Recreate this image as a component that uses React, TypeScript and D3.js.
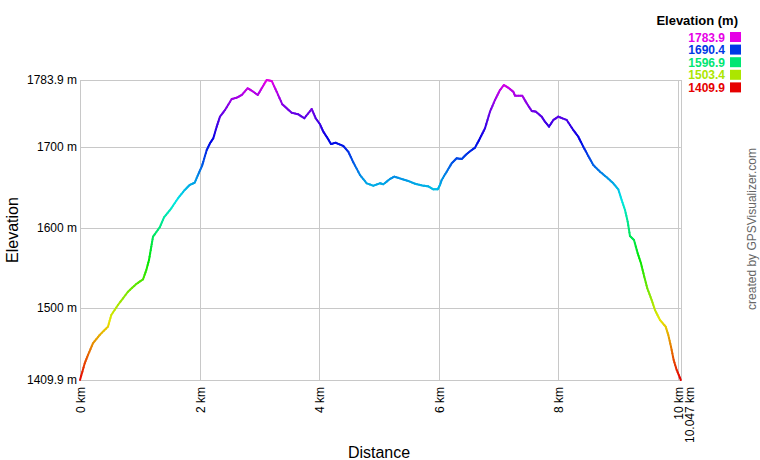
import React from "react";
import * as d3 from "d3";

const distanceKm: number[] = [
  0, 0.079, 0.134, 0.217, 0.329, 0.468, 0.523, 0.635, 0.803, 0.941, 1.054, 1.109, 1.154, 1.192, 1.221,
  1.333, 1.405, 1.527, 1.639, 1.751, 1.834, 1.918, 1.985, 2.04, 2.062, 2.119, 2.174, 2.229, 2.286, 2.341,
  2.425, 2.537, 2.62, 2.704, 2.804, 2.881, 2.972, 3.038, 3.122, 3.206, 3.289, 3.383, 3.457, 3.54, 3.651,
  3.751, 3.875, 3.941, 4.013, 4.069, 4.125, 4.197, 4.276, 4.403, 4.487, 4.57, 4.682, 4.794, 4.905, 5.017,
  5.072, 5.184, 5.256, 5.38, 5.49, 5.602, 5.741, 5.824, 5.908, 5.982, 6.02, 6.048, 6.132, 6.216, 6.299,
  6.383, 6.467, 6.55, 6.605, 6.689, 6.773, 6.856, 6.94, 7.023, 7.09, 7.174, 7.246, 7.274, 7.396, 7.47,
  7.554, 7.625, 7.721, 7.776, 7.843, 7.915, 7.998, 8.139, 8.249, 8.333, 8.416, 8.5, 8.584, 8.696, 8.808,
  8.918, 9.002, 9.058, 9.114, 9.159, 9.197, 9.264, 9.326, 9.381, 9.436, 9.487, 9.56, 9.615, 9.699, 9.794,
  9.838, 9.883, 9.928, 9.978, 10.047,
];

const elevationM: number[] = [
  1409.9, 1430.7, 1441.1, 1455.7, 1466.0, 1476.4, 1490.9, 1503.4, 1520.0, 1529.6, 1535.4, 1547.0, 1559.5, 1576.1, 1588.6,
  1600.3, 1612.7, 1624.0, 1636.4, 1646.8, 1653.0, 1655.9, 1667.6, 1676.7, 1682.1, 1696.6, 1705.0, 1711.2, 1725.7, 1738.2,
  1746.5, 1760.2, 1761.8, 1765.2, 1773.6, 1770.2, 1765.2, 1773.6, 1783.9, 1782.7, 1769.3, 1753.6, 1748.6, 1743.1, 1741.1,
  1736.2, 1747.8, 1736.2, 1728.7, 1719.5, 1713.2, 1704.1, 1705.7, 1701.6, 1694.5, 1681.3, 1665.5, 1655.1, 1652.1, 1655.1,
  1653.9, 1660.5, 1663.4, 1660.5, 1658.0, 1654.6, 1652.1, 1651.4, 1647.6, 1647.6, 1653.0, 1659.2, 1669.6, 1680.1, 1686.3,
  1685.4, 1691.7, 1696.6, 1699.5, 1711.2, 1723.7, 1744.4, 1759.0, 1771.4, 1777.7, 1773.6, 1769.3, 1764.3, 1764.3, 1754.9,
  1745.3, 1744.4, 1738.2, 1731.9, 1725.7, 1734.0, 1738.2, 1734.0, 1721.6, 1713.2, 1700.8, 1689.2, 1677.9, 1669.6, 1662.6,
  1655.1, 1647.6, 1634.3, 1621.8, 1607.3, 1589.4, 1584.4, 1567.9, 1555.4, 1538.7, 1524.2, 1509.6, 1497.2, 1484.7, 1476.4,
  1466.0, 1451.4, 1434.8, 1422.4, 1409.9,
];

const xTicks: number[] = [0, 2, 4, 6, 8, 10];
const yTicks: number[] = [1500, 1600, 1700];
const legendValues: number[] = [1783.9, 1690.4, 1596.9, 1503.4, 1409.9];

const MIN_E = 1409.9;
const MAX_E = 1783.9;
const MAX_D = 10.047;

const FONT = "'Liberation Sans', Arial, sans-serif";

export default function App() {
  const left = 80;
  const right = 680.8;
  const top = 80;
  const bottom = 380;

  const x = d3.scaleLinear().domain([0, MAX_D]).range([left, right]);
  const y = d3.scaleLinear().domain([MIN_E, MAX_E]).range([bottom, top]);
  const colorOf = (e: number) => {
    const t = (e - MIN_E) / (MAX_E - MIN_E);
    return d3.hsl(300 * Math.max(0, Math.min(1, t)), 1, 0.45).formatHex();
  };

  const lineGen = d3
    .line<[number, number]>()
    .x((d) => x(d[0]))
    .y((d) => y(d[1]));

  const segments: { d: string; c: string }[] = [];
  for (let i = 0; i < distanceKm.length - 1; i++) {
    const d0 = distanceKm[i], d1 = distanceKm[i + 1];
    const e0 = elevationM[i], e1 = elevationM[i + 1];
    const n = 4;
    for (let k = 0; k < n; k++) {
      const a = k / n, b = (k + 1) / n;
      const pA: [number, number] = [d0 + (d1 - d0) * a, e0 + (e1 - e0) * a];
      const pB: [number, number] = [d0 + (d1 - d0) * b, e0 + (e1 - e0) * b];
      segments.push({ d: lineGen([pA, pB]) || "", c: colorOf((pA[1] + pB[1]) / 2) });
    }
  }

  const grid = "#c8c8c8";

  return (
    <svg
      width={760}
      height={460}
      style={{ position: "absolute", left: 0, top: 0, background: "#fff" }}
      fontFamily={FONT}
    >
      <rect x={0} y={0} width={760} height={460} fill="#fff" />
      {yTicks.map((t) => (
        <line key={"hy" + t} x1={left} x2={right} y1={Math.round(y(t)) + 0.5} y2={Math.round(y(t)) + 0.5} stroke={grid} />
      ))}
      {xTicks.map((t) => (
        <line key={"vx" + t} x1={Math.round(x(t)) + 0.5} x2={Math.round(x(t)) + 0.5} y1={top} y2={bottom} stroke={grid} />
      ))}
      <rect x={left + 0.5} y={top + 0.5} width={Math.round(right) - left} height={bottom - top} fill="none" stroke={grid} />

      {[MAX_E, ...yTicks, MIN_E].map((t) => (
        <text key={"yl" + t} x={77} y={y(t)} dy="0.35em" textAnchor="end" fontSize={12} fill="#000">
          {(Number.isInteger(t) ? String(t) : t.toFixed(1)) + " m"}
        </text>
      ))}

      {xTicks.map((t) => (
        <text
          key={"xl" + t}
          transform={`translate(${x(t) + 5},${bottom + 7}) rotate(-90)`}
          textAnchor="end"
          fontSize={12}
          fill="#000"
        >
          {t + " km"}
        </text>
      ))}
      <text
        transform={`translate(${x(MAX_D) + 13.5},${bottom + 7}) rotate(-90)`}
        textAnchor="end"
        fontSize={12}
        fill="#000"
      >
        {MAX_D.toFixed(3) + " km"}
      </text>

      <text x={379} y={458} textAnchor="middle" fontSize={16} fill="#000">
        Distance
      </text>
      <text transform="translate(18,230) rotate(-90)" textAnchor="middle" fontSize={16} fill="#000">
        Elevation
      </text>

      <g fill="none" strokeWidth={2} strokeLinecap="round" strokeLinejoin="round">
        {segments.map((s, i) => (
          <path key={i} d={s.d} stroke={s.c} />
        ))}
      </g>

      <text x={738} y={25} textAnchor="end" fontSize={13} fontWeight="bold" fill="#000">
        Elevation (m)
      </text>
      {legendValues.map((v, i) => (
        <g key={"lg" + v}>
          <text x={725} y={41.5 + i * 12.6} textAnchor="end" fontSize={12} fontWeight="bold" fill={colorOf(v)}>
            {v.toFixed(1)}
          </text>
          <rect x={730} y={32 + i * 12.6} width={11} height={10} fill={colorOf(v)} />
        </g>
      ))}

      <text transform="translate(756,229) rotate(-90)" textAnchor="middle" fontSize={12} fill="#666">
        created by GPSVisualizer.com
      </text>
    </svg>
  );
}
